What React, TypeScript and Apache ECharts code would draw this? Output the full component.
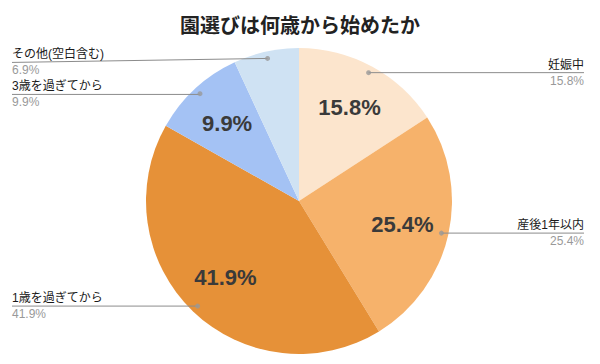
import React, { useEffect, useRef } from 'react';
import * as echarts from 'echarts';

const TITLE = '園選びは何歳から始めたか';
const categories = ['妊娠中', '産後1年以内', '1歳を過ぎてから', '3歳を過ぎてから', 'その他(空白含む)'];
const values = [15.8, 25.4, 41.9, 9.9, 6.9];
const colors = ['#fce5cd', '#f6b26b', '#e69138', '#a4c2f4', '#cfe2f3'];
const showInnerLabel = [true, true, true, true, false];

const FONT = "'Liberation Sans', 'Noto Sans CJK JP', sans-serif";

export default function App() {
  const ref = useRef<HTMLDivElement>(null);
  useEffect(() => {
    if (!ref.current) return;
    const chart = echarts.init(ref.current, null, { renderer: 'svg' });
    const total = values.reduce((a, b) => a + b, 0);
    const mids = values.map((v, i) => values.slice(0, i).reduce((a, b) => a + b, 0) + v / 2);
    const CENTER = [299, 201];
    const R = 153;
    const DOT_R = 146;
    const solid = categories.map((name, i) => ({ name, value: values[i], itemStyle: { color: colors[i] } }));
    const clear = categories.map((name, i) => ({ name, value: values[i], itemStyle: { color: 'rgba(0,0,0,0)' } }));
    const clearInner = categories.map((name, i) => ({
      name,
      value: values[i],
      itemStyle: { color: 'rgba(0,0,0,0)' },
      label: { show: showInnerLabel[i] },
    }));
    chart.setOption({
      animation: false,
      textStyle: { fontFamily: FONT },
      title: {
        text: TITLE,
        left: 'center',
        top: 11,
        textStyle: { fontSize: 20, fontWeight: 'bold', color: '#222', fontFamily: FONT },
      },
      polar: { center: CENTER, radius: R },
      angleAxis: {
        type: 'value', min: 0, max: total, startAngle: 90, clockwise: true,
        axisLine: { show: false }, axisTick: { show: false }, axisLabel: { show: false }, splitLine: { show: false },
      },
      radiusAxis: {
        type: 'value', min: 0, max: R,
        axisLine: { show: false }, axisTick: { show: false }, axisLabel: { show: false }, splitLine: { show: false },
      },
      series: [
        {
          type: 'pie',
          center: CENTER,
          radius: [0, R],
          startAngle: 90,
          clockwise: true,
          silent: true,
          data: solid,
          label: { show: false },
          labelLine: { show: false },
          z: 1,
        },
        {
          type: 'pie',
          center: CENTER,
          radius: [53, R],
          startAngle: 90,
          clockwise: true,
          silent: true,
          data: clearInner,
          label: {
            show: true,
            position: 'inside',
            formatter: '{c}%',
            fontSize: 22,
            fontWeight: 'bold',
            color: '#3a3a3a',
            fontFamily: FONT,
          },
          labelLine: { show: false },
          z: 3,
        },
        {
          type: 'pie',
          left: 0,
          right: 4,
          center: CENTER,
          radius: [0, DOT_R],
          startAngle: 90,
          clockwise: true,
          silent: true,
          data: clear,
          label: {
            show: true,
            position: 'outside',
            alignTo: 'edge',
            edgeDistance: 12,
            minMargin: 4,
            formatter: '{name|{b}}\n{per|{c}%}',
            lineHeight: 16,
            rich: {
              name: { fontSize: 12, color: '#1a1a1a', lineHeight: 16, fontFamily: FONT },
              per: { fontSize: 12, color: '#999', lineHeight: 16, fontFamily: FONT },
            },
          },
          labelLine: {
            show: true,
            length: 0,
            length2: 10,
            lineStyle: { color: '#8c8c8c', width: 1 },
          },
          labelLayout: (params: any) => {
            const points = params.labelLinePoints;
            if (!points) return {};
            const rect = params.labelRect;
            const isLeft = rect.x < 300;
            points[2][0] = isLeft ? rect.x : rect.x + rect.width;
            if (params.dataIndex === 4) {
              const cy = rect.y + rect.height / 2 + 4;
              points[2][1] = cy;
              return { labelLinePoints: points, y: cy };
            }
            return { labelLinePoints: points };
          },
          z: 4,
        },
        {
          type: 'scatter',
          coordinateSystem: 'polar',
          silent: true,
          symbol: 'circle',
          symbolSize: 5,
          itemStyle: { color: '#999' },
          data: mids.map((m) => [DOT_R, m]),
          z: 5,
        },
      ],
    });
    return () => chart.dispose();
  }, []);
  return <div ref={ref} style={{ position: 'absolute', left: 0, top: 0, width: 600, height: 364 }} />;
}
